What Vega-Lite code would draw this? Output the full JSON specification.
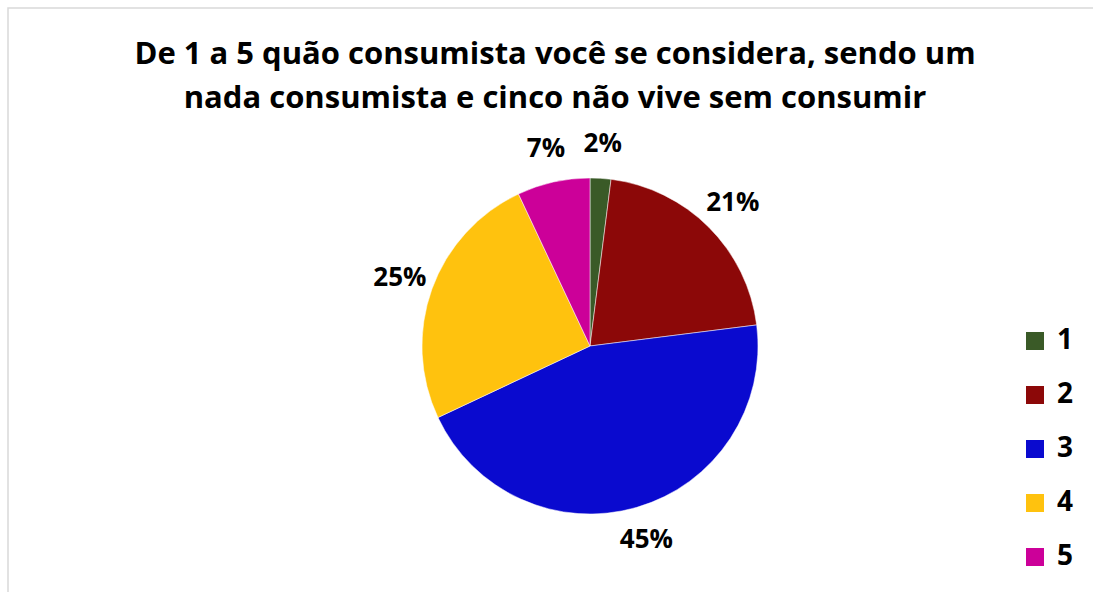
{
  "$schema": "https://vega.github.io/schema/vega-lite/v6.json",
  "autosize": "none",
  "padding": {"left": 8, "top": 8, "right": 0, "bottom": 0},
  "width": 1164,
  "height": 676,
  "background": "white",
  "view": {"stroke": "#D9D9D9", "strokeWidth": 1.5},
  "title": {
    "text": ["De 1 a 5 quão consumista você se considera, sendo um", "nada consumista e cinco não vive sem consumir"],
    "font": "Open Sans",
    "fontSize": 31,
    "fontWeight": "bold",
    "color": "#000000",
    "lineHeight": 44,
    "anchor": "middle",
    "baseline": "top",
    "offset": 0,
    "dx": -35,
    "dy": 107
  },
  "data": {
    "values": [
      {"nota": "1", "pct": 0.02},
      {"nota": "2", "pct": 0.21},
      {"nota": "3", "pct": 0.45},
      {"nota": "4", "pct": 0.25},
      {"nota": "5", "pct": 0.07}
    ]
  },
  "encoding": {
    "theta": {"field": "pct", "type": "quantitative", "stack": true},
    "order": {"field": "nota", "type": "ordinal"},
    "color": {
      "field": "nota",
      "type": "nominal",
      "scale": {"domain": ["1", "2", "3", "4", "5"], "range": ["#3A5A27", "#8C0808", "#0A0ACF", "#FFC20E", "#CC0099"]},
      "legend": {
        "title": null,
        "orient": "none",
        "legendX": 1013,
        "legendY": 319,
        "symbolType": "square",
        "symbolSize": 324,
        "symbolStrokeWidth": 0,
        "labelFont": "Open Sans",
        "labelFontSize": 28,
        "labelFontWeight": "bold",
        "labelColor": "#000000",
        "labelOffset": 8,
        "rowPadding": 26
      }
    }
  },
  "layer": [
    {"mark": {"type": "arc", "outerRadius": 168, "stroke": "white", "strokeWidth": 0.5}},
    {
      "mark": {"type": "text", "radius": 202, "font": "Open Sans", "fontSize": 26, "fontWeight": "bold"},
      "encoding": {
        "text": {"field": "pct", "type": "quantitative", "format": ".0%"},
        "detail": {"field": "nota", "type": "nominal"},
        "color": {"value": "#000000"}
      }
    }
  ]
}
